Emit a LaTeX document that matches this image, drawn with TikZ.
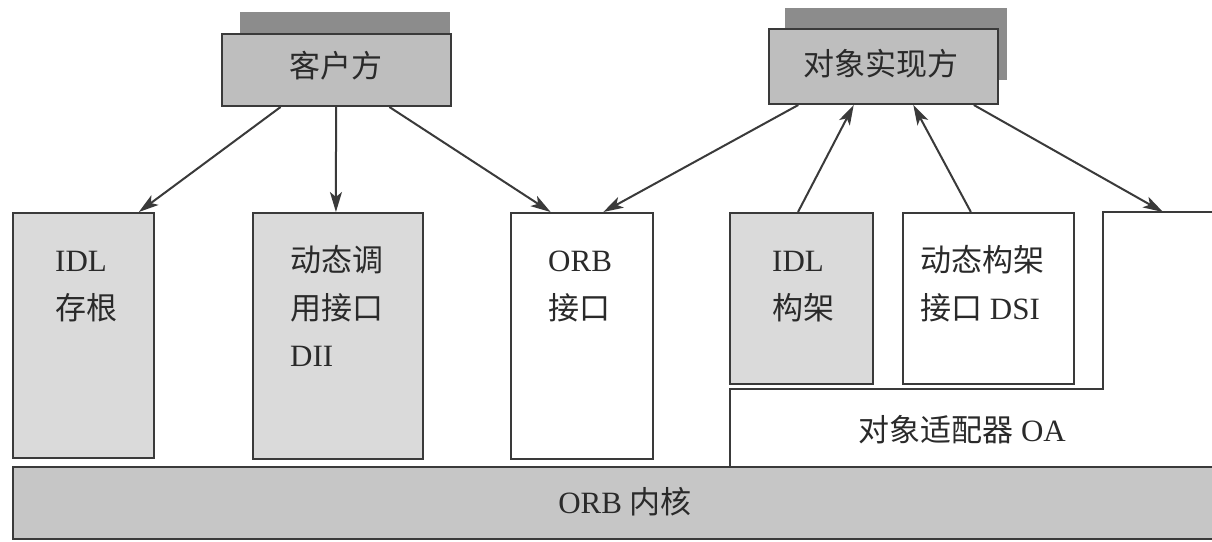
\documentclass[tikz,border=0pt]{standalone}
\usepackage{fontspec}
\setmainfont{Liberation Serif}
\newfontfamily\cjk{Noto Sans CJK SC}
\usetikzlibrary{arrows.meta,calc}
\definecolor{edgec}{HTML}{3A3A3A}
\definecolor{textc}{HTML}{2A2A2A}
\definecolor{lightfill}{HTML}{DADADA}
\definecolor{topfill}{HTML}{BEBEBE}
\definecolor{shadowfill}{HTML}{8C8C8C}
\definecolor{corefill}{HTML}{C6C6C6}
\begin{document}
\begin{tikzpicture}[x=1pt,y=-1pt,
  box/.style={draw=edgec,line width=2pt,rectangle,inner sep=0pt,anchor=north west},
  lightbox/.style={box,fill=lightfill},
  whitebox/.style={box,fill=white},
  topbox/.style={box,fill=topfill},
  shadowbox/.style={rectangle,inner sep=0pt,anchor=north west,fill=shadowfill},
  corebox/.style={box,fill=corefill},
  txt/.style={anchor=base west,inner sep=0pt,font=\fontsize{31}{31}\selectfont,text=textc},
  ctxt/.style={anchor=center,inner sep=0pt,font=\fontsize{31}{31}\selectfont,text=textc},
  arr/.style={draw=edgec,line width=2pt,-{Stealth[length=20pt,width=12pt,inset=5pt]}}]
\clip (0,0) rectangle (1212,541);
\fill[white] (0,0) rectangle (1212,541);

% top boxes with shadows
\node[shadowbox,minimum width=210pt,minimum height=80pt] (clientS) at (240,12) {};
\node[topbox,minimum width=229pt,minimum height=72pt] (client) at (221,33) {};
\node[ctxt] (clientT) at (336,66) {\cjk 客户方};

\node[shadowbox,minimum width=222pt,minimum height=72pt] (implS) at (785,8) {};
\node[topbox,minimum width=229pt,minimum height=75pt] (impl) at (768,28) {};
\node[ctxt] (implT) at (881,64) {\cjk 对象实现方};

% lower boxes
\node[lightbox,minimum width=141pt,minimum height=245pt] (stub) at (12,212) {};
\node[txt] (stubA) at (55,271) {IDL};
\node[txt] (stubB) at (55,319) {\cjk 存根};

\node[lightbox,minimum width=170pt,minimum height=246pt] (dii) at (252,212) {};
\node[txt] (diiA) at (290,271) {\cjk 动态调};
\node[txt] (diiB) at (290,319) {\cjk 用接口};
\node[txt] (diiC) at (290,366) {DII};

\node[whitebox,minimum width=142pt,minimum height=246pt] (orb) at (510,212) {};
\node[txt] (orbA) at (548,271) {ORB};
\node[txt] (orbB) at (548,319) {\cjk 接口};

\node[lightbox,minimum width=143pt,minimum height=171pt] (skel) at (729,212) {};
\node[txt] (skelA) at (772,271) {IDL};
\node[txt] (skelB) at (772,319) {\cjk 构架};

\node[whitebox,minimum width=171pt,minimum height=171pt] (dsi) at (902,212) {};
\node[txt] (dsiA) at (920,271) {\cjk 动态构架};
\node[txt] (dsiB) at (920,319) {{\cjk 接口} DSI};

% object adapter
\coordinate (oaR) at (1163,212);
\draw[draw=edgec,line width=2pt] (730,467) -- (730,389) -- (1103,389) -- (1103,212) -- (1220,212);
\node[ctxt] (oa) at (962,430) {{\cjk 对象适配器} OA};

% ORB core
\node[corebox,minimum width=1215pt,minimum height=72pt] (core) at (12,466) {};
\node[ctxt] (coreT) at (625,502) {ORB {\cjk 内核}};

% arrows from client
\draw[arr] ($(client.south west)!0.258!(client.south east)$) -- ($(stub.north west)!0.887!(stub.north east)$);
\draw[arr] ($(client.south west)!0.498!(client.south east)$) -- ($(dii.north west)!0.488!(dii.north east)$);
\draw[arr] ($(client.south west)!0.729!(client.south east)$) -- ($(orb.north west)!0.282!(orb.north east)$);

% arrows around implementation
\draw[arr] ($(impl.south west)!0.131!(impl.south east)$) -- ($(orb.north west)!0.648!(orb.north east)$);
\draw[arr] ($(skel.north west)!0.476!(skel.north east)$) -- ($(impl.south west)!0.371!(impl.south east)$);
\draw[arr] ($(dsi.north west)!0.398!(dsi.north east)$) -- ($(impl.south west)!0.629!(impl.south east)$);
\draw[arr] ($(impl.south west)!0.891!(impl.south east)$) -- (oaR);
\end{tikzpicture}
\end{document}
